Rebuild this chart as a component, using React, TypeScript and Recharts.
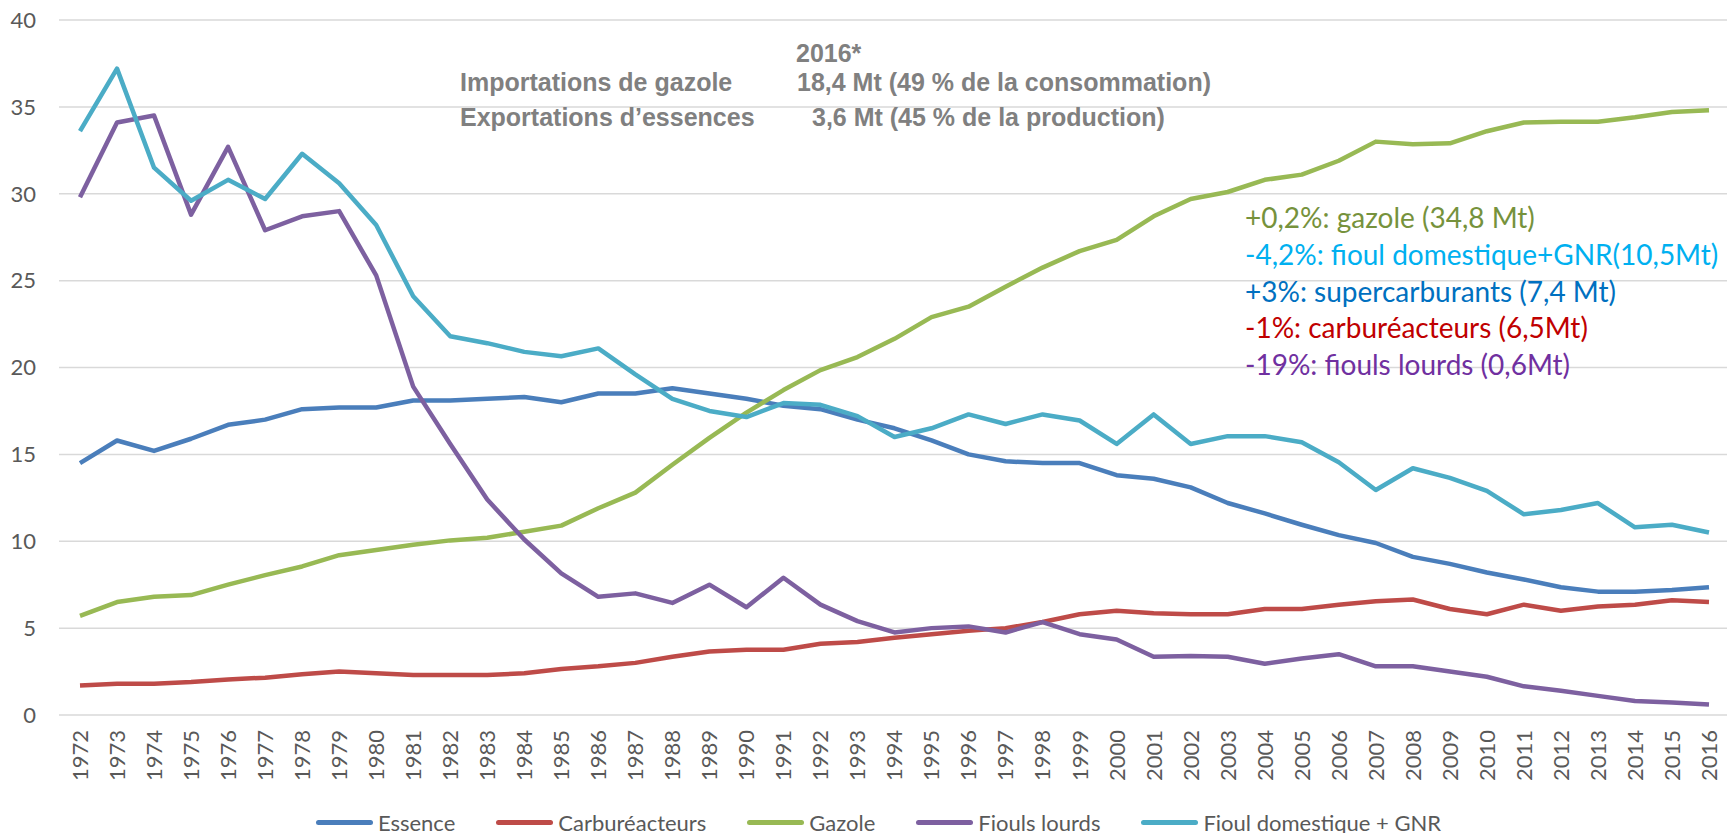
import { CartesianGrid, Legend, Line, LineChart, XAxis, YAxis } from "recharts";

const years = [
  "1972", "1973", "1974", "1975", "1976", "1977", "1978", "1979", "1980", "1981",
  "1982", "1983", "1984", "1985", "1986", "1987", "1988", "1989", "1990", "1991",
  "1992", "1993", "1994", "1995", "1996", "1997", "1998", "1999", "2000", "2001",
  "2002", "2003", "2004", "2005", "2006", "2007", "2008", "2009", "2010", "2011",
  "2012", "2013", "2014", "2015", "2016"
];

const essence = [
  14.5, 15.8, 15.2, 15.9, 16.7, 17.0, 17.6, 17.7, 17.7, 18.1,
  18.1, 18.2, 18.3, 18.0, 18.5, 18.5, 18.8, 18.5, 18.2, 17.8,
  17.6, 17.0, 16.5, 15.8, 15.0, 14.6, 14.5, 14.5, 13.8, 13.6,
  13.1, 12.2, 11.6, 10.95, 10.35, 9.9, 9.1, 8.7, 8.2, 7.8,
  7.35, 7.1, 7.1, 7.2, 7.35
];

const carbureacteurs = [
  1.7, 1.8, 1.8, 1.9, 2.05, 2.15, 2.35, 2.5, 2.4, 2.3,
  2.3, 2.3, 2.4, 2.65, 2.8, 3.0, 3.35, 3.65, 3.75, 3.75,
  4.1, 4.2, 4.45, 4.65, 4.85, 5.0, 5.35, 5.8, 6.0, 5.85,
  5.8, 5.8, 6.1, 6.1, 6.35, 6.55, 6.65, 6.1, 5.8, 6.35,
  6.0, 6.25, 6.35, 6.6, 6.5
];

const gazole = [
  5.7, 6.5, 6.8, 6.9, 7.5, 8.05, 8.55, 9.2, 9.5, 9.8,
  10.05, 10.2, 10.55, 10.9, 11.9, 12.8, 14.4, 15.95, 17.4, 18.7,
  19.85, 20.6, 21.65, 22.9, 23.5, 24.65, 25.75, 26.7, 27.35, 28.7,
  29.7, 30.1, 30.8, 31.1, 31.9, 33.0, 32.85, 32.9, 33.6, 34.1,
  34.15, 34.15, 34.4, 34.7, 34.8
];

const fioulsLourds = [
  29.8, 34.1, 34.5, 28.8, 32.7, 27.9, 28.7, 29.0, 25.3, 18.9,
  15.6, 12.4, 10.1, 8.15, 6.8, 7.0, 6.45, 7.5, 6.2, 7.9,
  6.35, 5.4, 4.75, 5.0, 5.1, 4.75, 5.35, 4.65, 4.35, 3.35,
  3.4, 3.35, 2.95, 3.25, 3.5, 2.8, 2.8, 2.5, 2.2, 1.65,
  1.4, 1.1, 0.8, 0.72, 0.6
];

const fioulDomestique = [
  33.6, 37.2, 31.5, 29.6, 30.8, 29.7, 32.3, 30.6, 28.2, 24.1,
  21.8, 21.4, 20.9, 20.65, 21.1, 19.6, 18.2, 17.5, 17.15, 17.95,
  17.85, 17.2, 16.0, 16.5, 17.3, 16.75, 17.3, 16.95, 15.6, 17.3,
  15.6, 16.05, 16.05, 15.7, 14.55, 12.95, 14.2, 13.65, 12.9, 11.55,
  11.8, 12.2, 10.8, 10.95, 10.5
];

const yTicks = [0, 5, 10, 15, 20, 25, 30, 35, 40];

const series = [
  { key: "essence", name: "Essence", color: "#4a7ebb", values: essence },
  { key: "carbureacteurs", name: "Carburéacteurs", color: "#be4b48", values: carbureacteurs },
  { key: "gazole", name: "Gazole", color: "#98b954", values: gazole },
  { key: "fioulsLourds", name: "Fiouls lourds", color: "#7d60a0", values: fioulsLourds },
  { key: "fioulDomestique", name: "Fioul domestique + GNR", color: "#4bacc6", values: fioulDomestique }
];

const data = years.map((year, i) => {
  const row: Record<string, string | number> = { year };
  series.forEach((s) => {
    row[s.key] = s.values[i];
  });
  return row;
});

const summary = [
  { text: "2016*", x: 796, y: 62 },
  { text: "Importations de gazole", x: 460, y: 91 },
  { text: "18,4 Mt (49 % de la consommation)", x: 797, y: 91 },
  { text: "Exportations d’essences", x: 460, y: 126 },
  { text: "3,6 Mt (45 % de la production)", x: 812, y: 126 }
];

const rates = [
  { text: "+0,2%: gazole (34,8 Mt)", color: "#76923c" },
  { text: "-4,2%: fioul domestique+GNR(10,5Mt)", color: "#00b0f0" },
  { text: "+3%: supercarburants (7,4 Mt)", color: "#0070c0" },
  { text: "-1%: carburéacteurs (6,5Mt)", color: "#c00000" },
  { text: "-19%: fiouls lourds (0,6Mt)", color: "#7030a0" }
];

const FONT = "Lato, 'Open Sans', sans-serif";
const GREY = "#595959";

function YearTick(props: any) {
  const { x, y, payload } = props;
  return (
    <text
      x={x}
      y={y}
      transform={`rotate(-90 ${x} ${y})`}
      textAnchor="end"
      dy="0.36em"
      fill={GREY}
      fontSize={22}
      fontFamily={FONT}
    >
      {payload.value}
    </text>
  );
}

function LegendRow() {
  return (
    <div
      style={{
        display: "flex",
        justifyContent: "center",
        alignItems: "center",
        height: 34,
        gap: 41,
        paddingLeft: 30
      }}
    >
      {series.map((s) => (
        <div key={s.key} style={{ display: "flex", alignItems: "center" }}>
          <span
            style={{
              display: "inline-block",
              width: 57,
              height: 5,
              borderRadius: 3,
              background: s.color,
              marginRight: 5
            }}
          />
          <span style={{ fontSize: 22, color: GREY, fontFamily: FONT, whiteSpace: "nowrap" }}>{s.name}</span>
        </div>
      ))}
    </div>
  );
}

export default function App() {
  return (
    <div
      style={{
        position: "fixed",
        top: 0,
        left: 0,
        width: 1727,
        height: 833,
        overflow: "hidden",
        background: "#fff",
        fontFamily: FONT
      }}
    >
      <LineChart width={1727} height={839} data={data} margin={{ top: 20, right: 0, bottom: 0, left: 0 }}>
        <CartesianGrid vertical={false} stroke="#d9d9d9" strokeWidth={1.5} />
        <XAxis
          dataKey="year"
          interval={0}
          axisLine={false}
          tickLine={false}
          tickSize={0}
          tickMargin={15}
          height={90}
          padding={{ left: 21, right: 18 }}
          tick={<YearTick />}
        />
        <YAxis
          domain={[0, 40]}
          ticks={yTicks}
          axisLine={false}
          tickLine={false}
          tickSize={0}
          tickMargin={23}
          width={59}
          tick={{ fill: GREY, fontSize: 22, fontFamily: FONT }}
        />
        <Legend verticalAlign="bottom" content={() => <LegendRow />} />
        {series.map((s) => (
          <Line
            key={s.key}
            type="linear"
            dataKey={s.key}
            name={s.name}
            stroke={s.color}
            strokeWidth={4.5}
            dot={false}
            activeDot={false}
            strokeLinejoin="round"
            isAnimationActive={false}
          />
        ))}
      </LineChart>
      <svg
        width={1727}
        height={833}
        style={{ position: "absolute", top: 0, left: 0, pointerEvents: "none" }}
      >
        {summary.map((t) => (
          <text
            key={t.text}
            x={t.x}
            y={t.y}
            fill="#808080"
            fontSize={25}
            fontWeight="bold"
            fontFamily="'Liberation Sans', Arial, sans-serif"
          >
            {t.text}
          </text>
        ))}
        {rates.map((t, i) => (
          <text key={t.text} x={1245} y={228 + i * 36.8} fill={t.color} fontSize={28} fontFamily={FONT}>
            {t.text}
          </text>
        ))}
      </svg>
    </div>
  );
}
